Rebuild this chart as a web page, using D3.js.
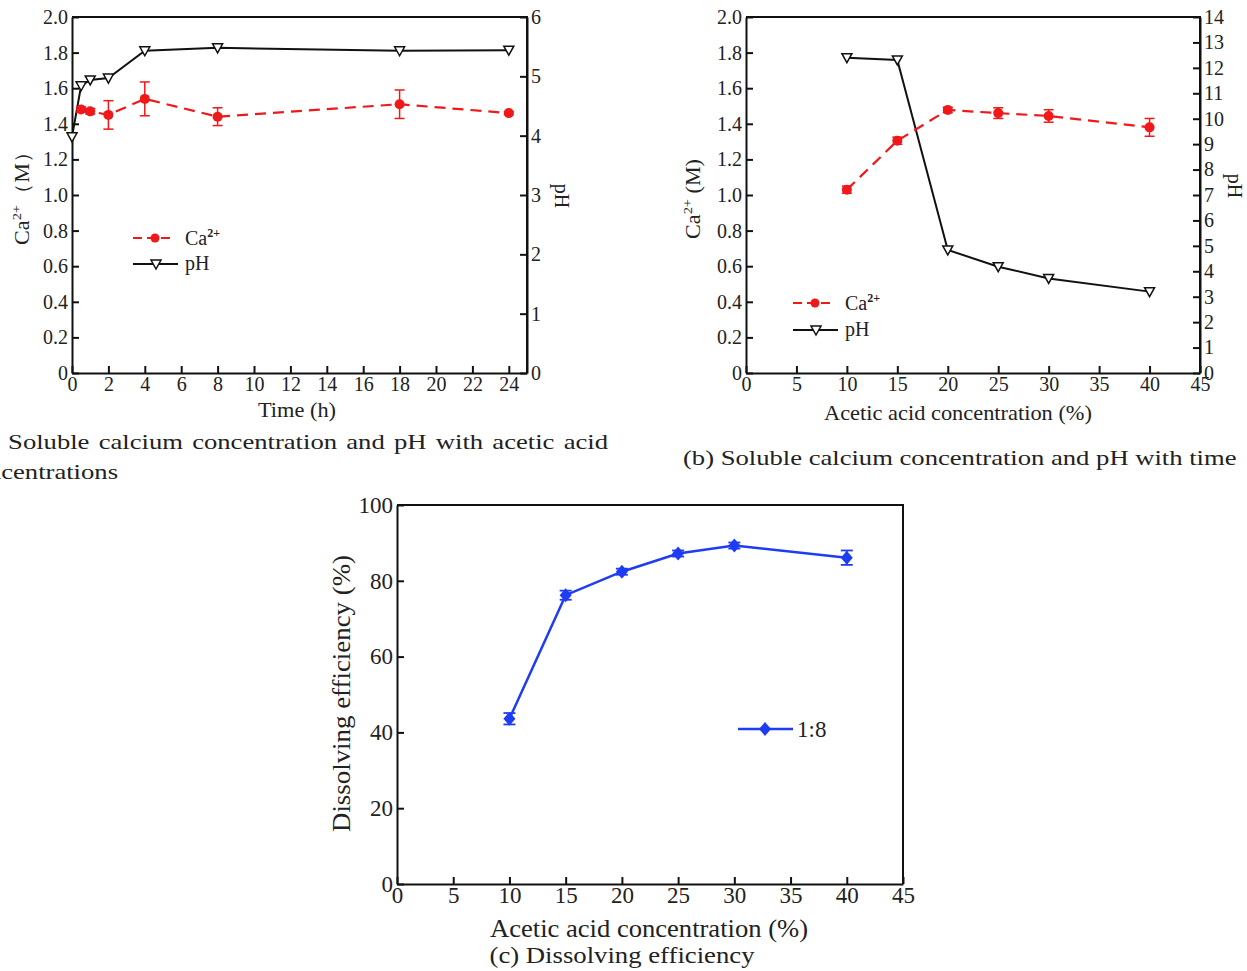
<!DOCTYPE html>
<html>
<head>
<meta charset="utf-8">
<script src="https://cdn.jsdelivr.net/npm/d3@7/dist/d3.min.js"></script>
<style>
  body { margin: 0; background: #fff; }
  svg text { font-family: "Liberation Serif", "Times New Roman", serif; fill: #222; }
</style>
</head>
<body>
<svg id="chart" width="1247" height="971" font-family="Liberation Serif, serif"></svg>
<script>
// panel (a): time series
const timeCa = [0.5, 1, 2, 4, 8, 18, 24]
const caTime = [1.48, 1.47, 1.45, 1.54, 1.44, 1.51, 1.46]
const caTimeErr = [0.015, 0.015, 0.08, 0.095, 0.05, 0.08, 0.008]
const timePh = [0, 0.5, 1, 2, 4, 8, 18, 24]
const phTime = [3.98, 4.84, 4.94, 4.97, 5.43, 5.48, 5.43, 5.44]

// panel (b): acetic acid concentration
const acidConc = [10, 15, 20, 25, 30, 40]
const caAcid = [1.03, 1.305, 1.478, 1.46, 1.444, 1.38]
const caAcidErr = [0.02, 0.02, 0.015, 0.03, 0.035, 0.05]
const phAcid = [12.4, 12.31, 4.84, 4.18, 3.72, 3.2]

// panel (c): dissolving efficiency
const effAcid = [43.6, 76.2, 82.4, 87.2, 89.3, 86.1]
const effErr = [1.5, 1.2, 0.8, 0.8, 0.8, 1.9]

const timeTicks = d3.range(0, 25, 2)
const concTicks = d3.range(0, 46, 5)
const caTicks = d3.range(0, 2.01, 0.2)

const red = "#f01818"
const blue = "#1f3cf5"

const svg = d3.select("#chart")
const fmtCa = d => d === 0 ? "0" : d3.format(".1f")(d)

// stretch a text to the width it has in the reference
const fit = (sel, w) => sel.attr("textLength", w).attr("lengthAdjust", "spacingAndGlyphs")

function styleAxis(g, fs) {
  g.attr("font-family", "Liberation Serif, serif")
  g.select(".domain").attr("stroke", "#111").attr("stroke-width", 2)
  g.selectAll(".tick line").attr("stroke", "#111").attr("stroke-width", 2)
  g.selectAll(".tick text").attr("font-size", fs).attr("fill", "#222")
}

function frame(x0, x1, y0, y1) {
  svg.append("path")
    .attr("d", `M${x0},${y0}H${x1}V${y1}`)
    .attr("fill", "none").attr("stroke", "#111").attr("stroke-width", 2)
}

function triangle(g, cx, cy) {
  g.append("path")
    .attr("d", `M${cx - 5},${cy - 4}L${cx + 5},${cy - 4}L${cx},${cy + 5}Z`)
    .attr("fill", "#fff").attr("stroke", "#111").attr("stroke-width", 1.5)
}

function caLabel(x, y, paren, w) {
  const t = svg.append("text")
    .attr("transform", `translate(${x},${y}) rotate(-90)`)
    .attr("text-anchor", "middle").attr("font-size", 20)
  t.append("tspan").text("Ca")
  t.append("tspan").attr("font-size", 13).attr("dy", -8).text("2+")
  t.append("tspan").attr("dy", 8).text(paren)
  fit(t, w)
}

function legendCa(x, y) {
  svg.append("line").attr("x1", x).attr("x2", x + 42).attr("y1", y).attr("y2", y)
    .attr("stroke", red).attr("stroke-width", 2).attr("stroke-dasharray", "9,5")
  svg.append("circle").attr("cx", x + 22).attr("cy", y).attr("r", 4.5).attr("fill", red)
  const t = svg.append("text").attr("x", x + 52).attr("y", y + 7).attr("font-size", 20)
  t.append("tspan").text("Ca")
  t.append("tspan").attr("font-size", 12).attr("font-weight", "bold").attr("dy", -8).text("2+")
}

function legendPh(x, y) {
  svg.append("line").attr("x1", x).attr("x2", x + 45).attr("y1", y).attr("y2", y)
    .attr("stroke", "#111").attr("stroke-width", 2)
  triangle(svg, x + 23, y)
  svg.append("text").attr("x", x + 52).attr("y", y + 6).attr("font-size", 20).text("pH")
}

function dualPanel(opt) {
  const { x0, x1, y0, y1, xDomain, xTicks, phMax, xs, ca, caErr, phX, ph } = opt
  const x = d3.scaleLinear().domain(xDomain).range([x0, x1])
  const yCa = d3.scaleLinear().domain([0, 2]).range([y1, y0])
  const yPh = d3.scaleLinear().domain([0, phMax]).range([y1, y0])

  frame(x0, x1, y0, y1)

  svg.append("g").attr("transform", `translate(0,${y1})`)
    .call(d3.axisBottom(x).tickValues(xTicks).tickSize(-7).tickSizeOuter(0).tickPadding(4))
    .call(g => styleAxis(g, 20))
  svg.append("g").attr("transform", `translate(${x0},0)`)
    .call(d3.axisLeft(yCa).tickValues(caTicks).tickFormat(fmtCa).tickSize(-7).tickSizeOuter(0).tickPadding(4))
    .call(g => styleAxis(g, 20))
  svg.append("g").attr("transform", `translate(${x1},0)`)
    .call(d3.axisRight(yPh).tickValues(d3.range(0, phMax + 1)).tickFormat(d3.format("d"))
      .tickSize(-7).tickSizeOuter(0).tickPadding(4))
    .call(g => styleAxis(g, 20))

  // pH line
  const phPts = phX.map((d, i) => [x(d), yPh(ph[i])])
  svg.append("path").attr("d", d3.line()(phPts))
    .attr("fill", "none").attr("stroke", "#111").attr("stroke-width", 2)
  const gp = svg.append("g")
  phPts.forEach(p => triangle(gp, p[0], p[1]))

  // Ca line
  const caPts = xs.map((d, i) => [x(d), yCa(ca[i])])
  svg.append("path").attr("d", d3.line()(caPts))
    .attr("fill", "none").attr("stroke", red).attr("stroke-width", 2.2)
    .attr("stroke-dasharray", "11,7")
  const ge = svg.append("g").attr("stroke", red).attr("stroke-width", 1.5)
  xs.forEach((d, i) => {
    const cx = x(d), top = yCa(ca[i] + caErr[i]), bot = yCa(ca[i] - caErr[i])
    ge.append("line").attr("x1", cx).attr("x2", cx).attr("y1", top).attr("y2", bot)
    ge.append("line").attr("x1", cx - 5).attr("x2", cx + 5).attr("y1", top).attr("y2", top)
    ge.append("line").attr("x1", cx - 5).attr("x2", cx + 5).attr("y1", bot).attr("y2", bot)
  })
  svg.append("g").selectAll("circle").data(caPts).join("circle")
    .attr("cx", d => d[0]).attr("cy", d => d[1]).attr("r", 5).attr("fill", red)
}

// (a)
dualPanel({
  x0: 72, x1: 527, y0: 17, y1: 373, xDomain: [0, 25], xTicks: timeTicks, phMax: 6,
  xs: timeCa, ca: caTime, caErr: caTimeErr, phX: timePh, ph: phTime
})
caLabel(29, 193, "（M）", 104)
svg.append("text").attr("transform", "translate(555,196) rotate(90)")
  .attr("text-anchor", "middle").attr("font-size", 20).text("pH")
fit(svg.append("text").attr("x", 297).attr("y", 417).attr("text-anchor", "middle")
  .attr("font-size", 21).text("Time (h)"), 78)
legendCa(133, 238)
legendPh(133, 264)

// (b)
dualPanel({
  x0: 746, x1: 1200, y0: 17, y1: 373, xDomain: [0, 45], xTicks: concTicks, phMax: 14,
  xs: acidConc, ca: caAcid, caErr: caAcidErr, phX: acidConc, ph: phAcid
})
caLabel(700, 199, " (M)", 80)
svg.append("text").attr("transform", "translate(1228,186) rotate(90)")
  .attr("text-anchor", "middle").attr("font-size", 20).text("pH")
fit(svg.append("text").attr("x", 958).attr("y", 420).attr("text-anchor", "middle")
  .attr("font-size", 21).text("Acetic acid concentration (%)"), 268)
legendCa(793, 303)
legendPh(793, 330)

// captions: (b) sets the horizontal stretch, (a) is justified with wide word gaps
const capB = svg.append("text").attr("font-size", 22)
  .text("(b) Soluble calcium concentration and pH with time")
const sx = 554 / capB.node().getComputedTextLength()
capB.attr("transform", `translate(683,465) scale(${sx},1)`)

const capA = svg.append("text").attr("font-size", 22).attr("text-anchor", "end")
  .text("Soluble calcium concentration and pH with acetic acid")
const la = capA.node().getComputedTextLength()
const ws = (603 / sx - la) / 8
capA.attr("word-spacing", ws).attr("transform", `translate(608,449) scale(${sx},1)`)
  .text("(a) Soluble calcium concentration and pH with acetic acid")
svg.append("text").attr("font-size", 22).attr("text-anchor", "end")
  .attr("transform", `translate(118,479) scale(${sx},1)`).text("concentrations")

// (c)
{
  const x0 = 397, x1 = 903, y0 = 505, y1 = 884
  const x = d3.scaleLinear().domain([0, 45]).range([x0, x1])
  const y = d3.scaleLinear().domain([0, 100]).range([y1, y0])
  frame(x0, x1, y0, y1)
  svg.append("g").attr("transform", `translate(0,${y1})`)
    .call(d3.axisBottom(x).tickValues(concTicks).tickSize(-7).tickSizeOuter(0).tickPadding(3))
    .call(g => styleAxis(g, 23))
  svg.append("g").attr("transform", `translate(${x0},0)`)
    .call(d3.axisLeft(y).tickValues(d3.range(0, 101, 20)).tickSize(-7).tickSizeOuter(0).tickPadding(4))
    .call(g => styleAxis(g, 23))

  const pts = acidConc.map((d, i) => [x(d), y(effAcid[i])])
  svg.append("path").attr("d", d3.line()(pts))
    .attr("fill", "none").attr("stroke", blue).attr("stroke-width", 2.5)
  const ge = svg.append("g").attr("stroke", blue).attr("stroke-width", 1.8)
  acidConc.forEach((d, i) => {
    const cx = x(d), top = y(effAcid[i] + effErr[i]), bot = y(effAcid[i] - effErr[i])
    ge.append("line").attr("x1", cx).attr("x2", cx).attr("y1", top).attr("y2", bot)
    ge.append("line").attr("x1", cx - 6).attr("x2", cx + 6).attr("y1", top).attr("y2", top)
    ge.append("line").attr("x1", cx - 6).attr("x2", cx + 6).attr("y1", bot).attr("y2", bot)
  })
  const diamond = (cx, cy) => `M${cx},${cy - 7}L${cx + 6},${cy}L${cx},${cy + 7}L${cx - 6},${cy}Z`
  svg.append("g").selectAll("path").data(pts).join("path")
    .attr("d", d => diamond(d[0], d[1])).attr("fill", blue)

  // legend
  svg.append("line").attr("x1", 738).attr("x2", 793).attr("y1", 729).attr("y2", 729)
    .attr("stroke", blue).attr("stroke-width", 2.5)
  svg.append("path").attr("d", diamond(765, 729)).attr("fill", blue)
  svg.append("text").attr("x", 797).attr("y", 737).attr("font-size", 23).text("1:8")

  fit(svg.append("text").attr("transform", `translate(350,${(y0 + y1) / 2 - 1}) rotate(-90)`)
    .attr("text-anchor", "middle").attr("font-size", 25).text("Dissolving efficiency (%)"), 277)
  fit(svg.append("text").attr("x", 649).attr("y", 937).attr("text-anchor", "middle")
    .attr("font-size", 25).text("Acetic acid concentration (%)"), 318)
  fit(svg.append("text").attr("x", 622).attr("y", 963).attr("text-anchor", "middle")
    .attr("font-size", 24).text("(c) Dissolving efficiency"), 265)
}
</script>
</body>
</html>
